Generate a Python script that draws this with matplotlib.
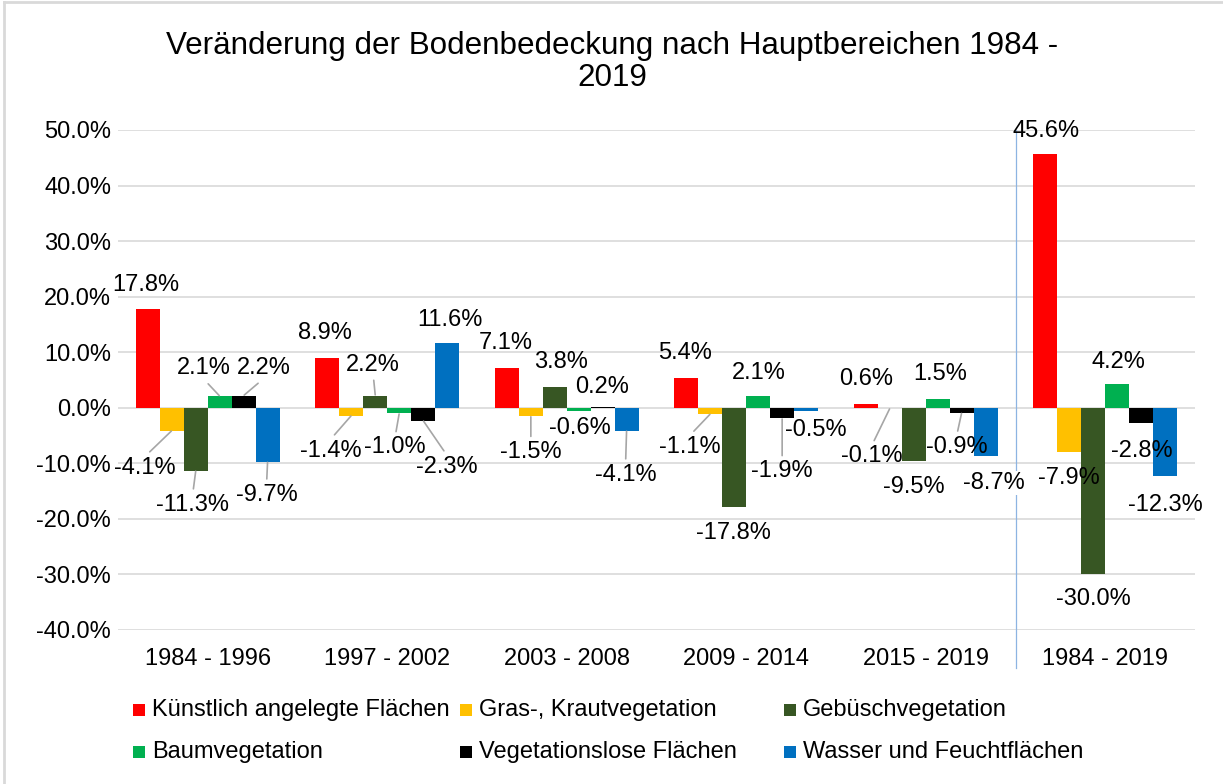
import matplotlib
matplotlib.use("Agg")
import matplotlib.pyplot as plt
from matplotlib.patches import Rectangle
from matplotlib.lines import Line2D

plt.rcParams["font.family"] = ["Liberation Sans", "DejaVu Sans"]

# Zeiträume und Klassen der Bodenbedeckung
periods = ["1984 - 1996", "1997 - 2002", "2003 - 2008", "2009 - 2014", "2015 - 2019", "1984 - 2019"]
series_names = [
    "Künstlich angelegte Flächen",
    "Gras-, Krautvegetation",
    "Gebüschvegetation",
    "Baumvegetation",
    "Vegetationslose Flächen",
    "Wasser und Feuchtflächen",
]

# Veränderung in Prozent je Klasse
kuenstlich = [17.8, 8.9, 7.1, 5.4, 0.6, 45.6]
gras = [-4.1, -1.4, -1.5, -1.1, -0.1, -7.9]
gebuesch = [-11.3, 2.2, 3.8, -17.8, -9.5, -30.0]
baum = [2.1, -1.0, -0.6, 2.1, 1.5, 4.2]
vegetationslos = [2.2, -2.3, 0.2, -1.9, -0.9, -2.8]
wasser = [-9.7, 11.6, -4.1, -0.5, -8.7, -12.3]

y_ticks = [50, 40, 30, 20, 10, 0, -10, -20, -30, -40]

series_values = [kuenstlich, gras, gebuesch, baum, vegetationslos, wasser]
colors = ["#FF0000", "#FFC000", "#375623", "#00B050", "#000000", "#0070C0"]

# label offsets in pixels (dx, dy up) from the bar end, per series and period
label_offsets = [
    [(-2, 24), (-2, 25), (-1, 25), (-1, 25), (0, 25), (1, 23)],
    [(-27, -37), (-21, -35), (0, -36), (-21, -33), (-18, -48), (0, -26)],
    [(-3, -34), (-2, 31), (6, 25), (-1, -26), (0, -26), (0, -25)],
    [(-16, 28), (-4, -34), (1, -17), (1, 23), (2, 25), (1, 22)],
    [(20, 28), (24, -46), (-1, 20), (0, -53), (-5, -34), (1, -28)],
    [(-1, -33), (3, 23), (-1, -44), (10, -19), (8, -27), (0, -29)],
]
# labels connected to their bar by a leader line (series, period)
leaders = {
    (1, 0), (2, 0), (3, 0), (4, 0), (5, 0),
    (1, 1), (2, 1), (3, 1), (4, 1),
    (1, 2), (5, 2),
    (1, 3), (4, 3),
    (1, 4), (4, 4),
}

W, H = 1223, 784
fig = plt.figure(figsize=(W / 100, H / 100), dpi=100)
ax = fig.add_axes([118 / W, 1 - 630 / H, 1077 / W, 500 / H])

n = len(series_values)
width = 0.8 / n
for s, (vals, col) in enumerate(zip(series_values, colors)):
    xs = [i + (s - (n - 1) / 2) * width for i in range(len(periods))]
    ax.bar(xs, vals, width=width, color=col, zorder=2)
    for p, (x, v) in enumerate(zip(xs, vals)):
        dx, dy = label_offsets[s][p]
        kw = {}
        if (s, p) in leaders:
            kw["arrowprops"] = dict(
                arrowstyle="-", color="#A6A6A6", lw=1.2,
                shrinkA=0, shrinkB=0.5,
                relpos=(0.5, 1.0) if dy < 0 else (0.5, 0.0),
            )
            kw["bbox"] = dict(boxstyle="square,pad=0.2", fc="none", ec="none")
        if s == 5 and p == 4:
            kw["bbox"] = dict(boxstyle="square,pad=0.05", fc="white", ec="none")
        ax.annotate(
            f"{v:.1f}%", xy=(x, v), xytext=(dx, dy), textcoords="offset pixels",
            ha="center", va="center", fontsize=17, color="#000000", zorder=4,
            annotation_clip=False, **kw,
        )

ax.set_xlim(-0.5, len(periods) - 0.5)
ax.set_ylim(-40, 50)
ax.set_yticks(y_ticks)
ax.set_yticklabels([f"{t:.1f}%" for t in y_ticks])
ax.set_xticks(range(len(periods)))
ax.set_xticklabels(periods)
ax.tick_params(axis="both", length=0, labelsize=17)
ax.tick_params(axis="x", pad=13)
ax.tick_params(axis="y", pad=5)
ax.grid(axis="y", color="#D9D9D9", lw=1.2, zorder=0)
ax.set_axisbelow(True)
for sp in ax.spines.values():
    sp.set_visible(False)

# separator before the overall period
ax.plot([len(periods) - 1.5] * 2, [50, -46.8], color="#8DB4E2", lw=0.9,
        clip_on=False, zorder=3)

fig.text(612 / W, 1 - 62 / H,
         "Veränderung der Bodenbedeckung nach Hauptbereichen 1984 -\n2019",
         ha="center", va="center", fontsize=22.6, linespacing=1.1)

# legend: three columns, two rows
col_x = [133, 460, 784]
row_y = [710, 752]
for i, (name, col) in enumerate(zip(series_names, colors)):
    x = col_x[i % 3]
    y = row_y[i // 3]
    fig.patches.append(Rectangle((x / W, 1 - (y + 6) / H), 12 / W, 12 / H,
                                 transform=fig.transFigure, facecolor=col,
                                 edgecolor="none"))
    fig.text((x + 19) / W, 1 - y / H, name, ha="left", va="center", fontsize=17)

# chart frame
fig.add_artist(Line2D([4 / W, 4 / W], [0, 1 - 2 / H], transform=fig.transFigure,
                      color="#D9D9D9", lw=2))
fig.add_artist(Line2D([4 / W, 1], [1 - 2 / H, 1 - 2 / H], transform=fig.transFigure,
                      color="#D9D9D9", lw=2))

fig.savefig("out.png", dpi=100)
